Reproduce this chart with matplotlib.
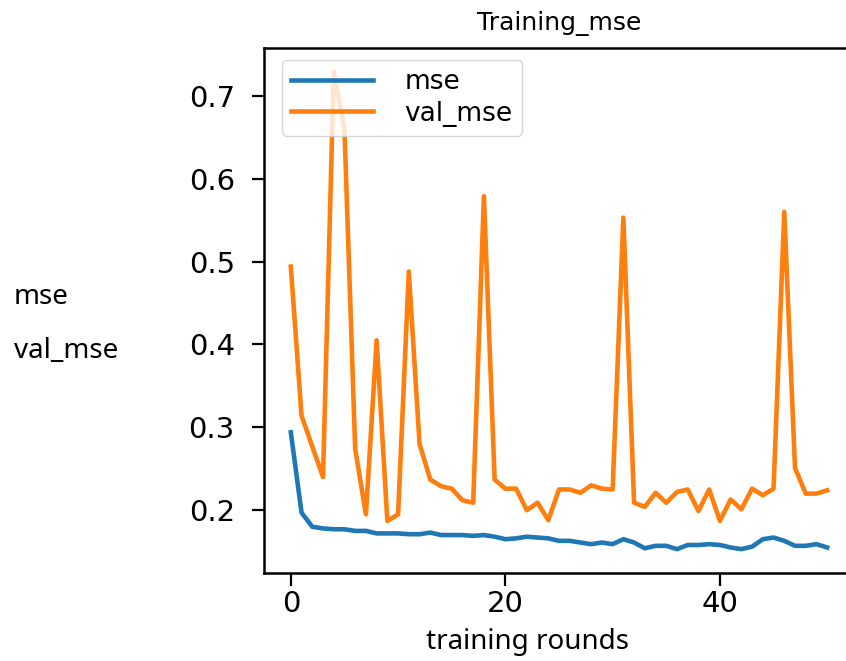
import matplotlib
matplotlib.use("Agg")
import matplotlib.pyplot as plt
import numpy as np

rounds = list(range(51))
mse = [0.294, 0.197, 0.180, 0.178, 0.177, 0.177, 0.175, 0.175, 0.172, 0.172,
       0.172, 0.171, 0.171, 0.173, 0.170, 0.170, 0.170, 0.169, 0.170, 0.168,
       0.165, 0.166, 0.168, 0.167, 0.166, 0.163, 0.163, 0.161, 0.159, 0.161,
       0.159, 0.165, 0.161, 0.154, 0.157, 0.157, 0.153, 0.158, 0.158, 0.159,
       0.158, 0.155, 0.153, 0.156, 0.165, 0.167, 0.163, 0.157, 0.157, 0.159,
       0.155]
val_mse = [0.494, 0.314, 0.277, 0.240, 0.729, 0.660, 0.274, 0.195, 0.405, 0.187,
           0.195, 0.488, 0.280, 0.237, 0.229, 0.226, 0.212, 0.209, 0.579, 0.237,
           0.226, 0.226, 0.200, 0.209, 0.188, 0.225, 0.225, 0.221, 0.230, 0.226,
           0.225, 0.553, 0.209, 0.204, 0.221, 0.209, 0.222, 0.225, 0.199, 0.225,
           0.187, 0.213, 0.201, 0.226, 0.218, 0.226, 0.560, 0.251, 0.220, 0.220,
           0.224]
x_ticks = [0, 20, 40]
y_ticks = [0.2, 0.3, 0.4, 0.5, 0.6, 0.7]

W, H = 846, 661
fig = plt.figure(figsize=(W / 100, H / 100), dpi=100)
ax = fig.add_axes([264 / W, 1 - 573 / H, (854 - 264) / W, (573 - 48) / H])

ax.plot(rounds, mse, color="#1f77b4", lw=3.3, label="mse")
ax.plot(rounds, val_mse, color="#ff7f0e", lw=3.3, label="val_mse")
ax.set_xticks(x_ticks)
ax.set_yticks(y_ticks)
ax.set_yticklabels([f"{v:.1f}" for v in y_ticks])
ax.tick_params(labelsize=21, length=9, width=1.6)
ax.tick_params(axis="y", pad=12)
ax.tick_params(axis="x", pad=3)
for s in ax.spines.values():
    s.set_linewidth(1.8)

ax.set_title("Training_mse", fontsize=18, pad=13)
leg = ax.legend(loc="upper left", bbox_to_anchor=(282 / W, 1 - 60 / H),
                bbox_transform=fig.transFigure, fontsize=19, handlelength=3.1,
                handletextpad=1.2, borderpad=0.35, labelspacing=0.2,
                borderaxespad=0)

lab = dict(family=["Noto Sans", "DejaVu Sans"], fontsize=20, color="black")
fig.text(14 / W, 1 - 297 / H, "mse", ha="left", va="center", **lab)
fig.text(14 / W, 1 - 351 / H, "val_mse", ha="left", va="center", **lab)
fig.text(527 / W, 1 - 649 / H, "training rounds", ha="center", va="baseline", **lab)

fig.savefig("out.png", dpi=100)
